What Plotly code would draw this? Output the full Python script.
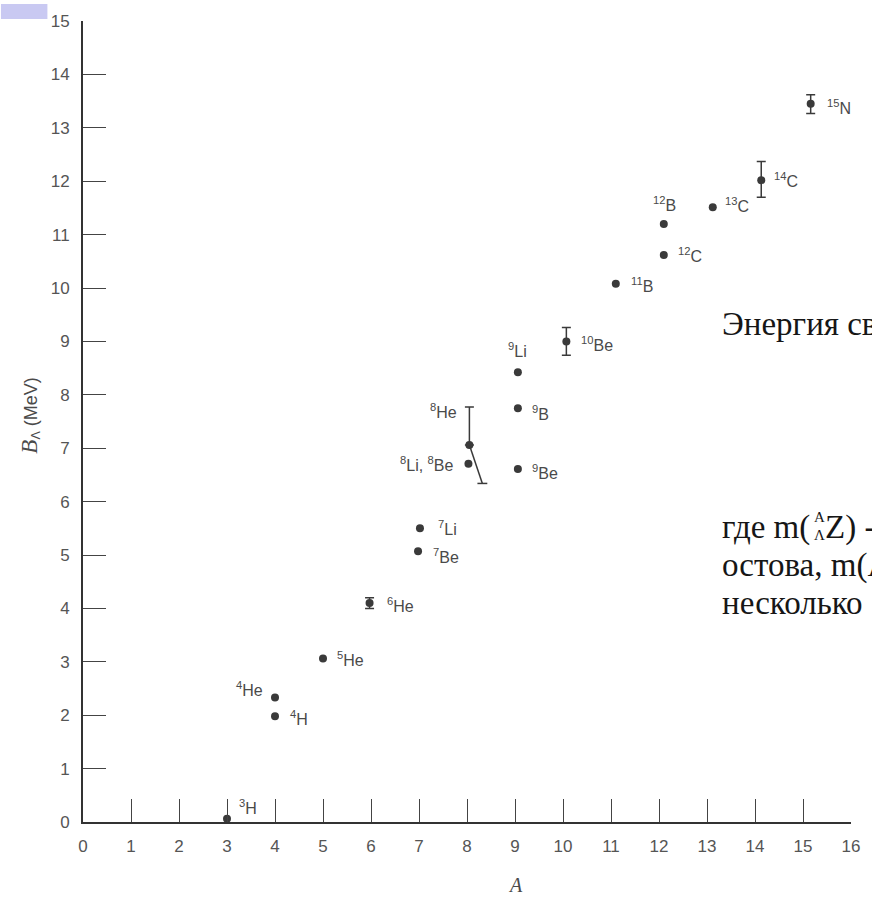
import plotly.graph_objects as go

# ---------------- data ----------------
labels = ["<sup>3</sup>H", "<sup>4</sup>H", "<sup>4</sup>He", "<sup>5</sup>He", "<sup>6</sup>He",
          "<sup>7</sup>Li", "<sup>7</sup>Be", "<sup>8</sup>He", "<sup>8</sup>Li, <sup>8</sup>Be",
          "<sup>9</sup>Li", "<sup>9</sup>B", "<sup>9</sup>Be", "<sup>10</sup>Be", "<sup>11</sup>B",
          "<sup>12</sup>B", "<sup>12</sup>C", "<sup>13</sup>C", "<sup>14</sup>C", "<sup>15</sup>N"]
A_vals = [3.0, 4.0, 4.0, 5.0, 5.97, 7.02, 6.98, 8.05, 8.03, 9.06, 9.06, 9.06,
          10.07, 11.1, 12.1, 12.1, 13.12, 14.13, 15.16]
B_vals = [0.06, 1.98, 2.33, 3.06, 4.10, 5.50, 5.07, 7.06, 6.71, 8.42, 7.75, 6.61,
          9.00, 10.08, 11.20, 10.62, 11.51, 12.02, 13.45]
err_plus = [0, 0, 0, 0, 0.10, 0, 0, 0.71, 0, 0, 0, 0, 0.26, 0, 0, 0, 0, 0.35, 0.17]
err_minus = [0, 0, 0, 0, 0.10, 0, 0, 0, 0, 0, 0, 0, 0.26, 0, 0, 0, 0, 0.32, 0.18]
# lower end of the 8He bar, drawn displaced to the right
he8_low_A = 8.32
he8_low_B = 6.34

x_ticks = list(range(0, 17))
y_ticks = list(range(0, 16))

# ---------------- label placement (layout only) ----------------
lab_anchor = ["left", "left", "right", "left", "left", "left", "left", "right", "right",
              "center", "left", "left", "left", "left", "center", "left", "left", "left", "left"]
lab_dx = [10, 13, -10, 12, 15, 16, 13, -10, -13, 0, 12, 12, 13, 13, 1, 12, 10, 11, 14]
lab_dy = [12, -2, 9, 0, -2, 0, -5, 34, 0, 22, -5, -3, -3, -1, 20, 0, 2, 0, -3]

INK = "#3a3a3a"
LBL = "#4a4a4a"

fig = go.Figure()

idx_plain = [i for i in range(len(A_vals)) if err_plus[i] == 0 and err_minus[i] == 0]
idx_err = [i for i in range(len(A_vals)) if not (err_plus[i] == 0 and err_minus[i] == 0)]

fig.add_trace(go.Scatter(
    x=[A_vals[i] for i in idx_plain], y=[B_vals[i] for i in idx_plain],
    mode="markers", marker=dict(size=8, color=INK), cliponaxis=False,
    showlegend=False, hoverinfo="skip"))

fig.add_trace(go.Scatter(
    x=[A_vals[i] for i in idx_err], y=[B_vals[i] for i in idx_err],
    mode="markers", marker=dict(size=8, color=INK), cliponaxis=False,
    error_y=dict(type="data", symmetric=False,
                 array=[err_plus[i] for i in idx_err],
                 arrayminus=[err_minus[i] for i in idx_err],
                 color=INK, thickness=1.5, width=4.5),
    showlegend=False, hoverinfo="skip"))

# slanted lower part of the 8He bar
i8 = labels.index("<sup>8</sup>He")
fig.add_trace(go.Scatter(
    x=[A_vals[i8], he8_low_A], y=[B_vals[i8], he8_low_B],
    mode="lines", line=dict(color=INK, width=1.5),
    showlegend=False, hoverinfo="skip"))
cap_half = 5.0 / 48.56
fig.add_trace(go.Scatter(
    x=[he8_low_A - cap_half, he8_low_A + cap_half], y=[he8_low_B, he8_low_B],
    mode="lines", line=dict(color=INK, width=1.5),
    showlegend=False, hoverinfo="skip"))

annotations = []
for i, lab in enumerate(labels):
    annotations.append(dict(
        x=A_vals[i], y=B_vals[i], xref="x", yref="y", text=lab, showarrow=False,
        xanchor=lab_anchor[i], yanchor="middle", xshift=lab_dx[i], yshift=lab_dy[i],
        font=dict(family="Liberation Sans, Arial, sans-serif", size=16, color=LBL)))

# plot-area pixel geometry for paper coordinates
L, R, T, Bm = 83, 12, 17, 76
W, H = 872, 898
pw, ph = W - L - R, H - T - Bm


def px(xp):
    return (xp - L) / pw


def py(yp):
    return (H - Bm - yp) / ph


# axis titles
annotations.append(dict(
    x=px(29), y=py(414), xref="paper", yref="paper", showarrow=False, textangle=-90,
    text="<span style='font-family:Liberation Serif;font-style:italic;font-size:23px'>B</span>"
         "<sub>Λ</sub> (MeV)",
    font=dict(family="Liberation Sans, Arial, sans-serif", size=18, color=LBL),
    xanchor="center", yanchor="middle"))
annotations.append(dict(
    x=px(521), y=py(885), xref="paper", yref="paper", showarrow=False,
    text="<i>A</i>", font=dict(family="Liberation Serif, serif", size=20, color=LBL),
    xanchor="center", yanchor="middle"))

# overlaid slide text (serif, cut at the right edge)
TXT = "#161616"
serif = dict(family="Liberation Serif, Times New Roman, serif", size=33, color=TXT)
small = dict(family="Liberation Serif, Times New Roman, serif", size=15, color=TXT)
annotations.append(dict(x=px(722), y=py(322), xref="paper", yref="paper", showarrow=False,
                        text="Энергия св", font=serif, xanchor="left", yanchor="middle",
                        xshift=5))
annotations.append(dict(x=px(722), y=py(526), xref="paper", yref="paper", showarrow=False,
                        text="где m(", font=serif, xanchor="left", yanchor="middle",
                        xshift=5))
annotations.append(dict(x=px(821), y=py(515), xref="paper", yref="paper", showarrow=False,
                        text="A", font=small, xanchor="left", yanchor="middle"))
annotations.append(dict(x=px(821), y=py(534), xref="paper", yref="paper", showarrow=False,
                        text="Λ", font=small, xanchor="left", yanchor="middle"))
annotations.append(dict(x=px(832), y=py(526), xref="paper", yref="paper", showarrow=False,
                        text="Z) -", font=serif, xanchor="left", yanchor="middle"))
annotations.append(dict(x=px(722), y=py(564), xref="paper", yref="paper", showarrow=False,
                        text="остова, m(Λ", font=serif, xanchor="left", yanchor="middle",
                        xshift=5))
annotations.append(dict(x=px(722), y=py(602), xref="paper", yref="paper", showarrow=False,
                        text="несколько", font=serif, xanchor="left", yanchor="middle",
                        xshift=5))

shapes = [dict(type="rect", xref="paper", yref="paper",
               x0=px(0), x1=px(47), y0=py(15), y1=py(0),
               fillcolor="#c9c9f2", line=dict(width=0), layer="above")]

axis_common = dict(
    showline=True, linewidth=2, linecolor="#333333", mirror=False,
    ticks="inside", ticklen=23, tickwidth=1.4, tickcolor="#444444",
    showgrid=False, zeroline=False, ticklabelstandoff=8,
    tickfont=dict(family="Liberation Sans, Arial, sans-serif", size=17, color="#555555"))

fig.update_layout(
    width=W, height=H, margin=dict(l=L, r=R, t=T, b=Bm, pad=0),
    paper_bgcolor="white", plot_bgcolor="white",
    xaxis=dict(range=[0, 16], tickvals=x_ticks, ticktext=[str(v) for v in x_ticks], **axis_common),
    yaxis=dict(range=[0, 15], tickvals=y_ticks, ticktext=[str(v) for v in y_ticks], **axis_common),
    annotations=annotations, shapes=shapes, showlegend=False)

fig.write_html("out.html", config={"displayModeBar": False},
               post_script="document.body.style.margin='0';")
